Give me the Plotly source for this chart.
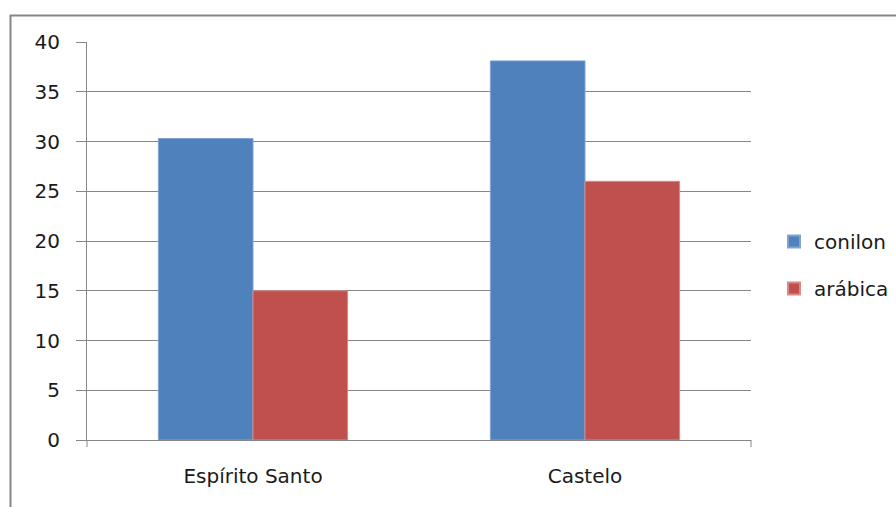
import plotly.graph_objects as go

categories = ["Espírito Santo", "Castelo"]
conilon = [30.3, 38.1]
arabica = [15.0, 26.0]
y_ticks = [0, 5, 10, 15, 20, 25, 30, 35, 40]

W, H = 896, 507
L, R, T, B = 87, 751, 42, 440

fig = go.Figure()
fig.add_trace(go.Bar(name="conilon", x=categories, y=conilon, legendgroup="a",
                     marker=dict(color="#4F81BD", line=dict(color="#7FA3D3", width=1))))
fig.add_trace(go.Bar(name="arábica", x=categories, y=arabica, legendgroup="b",
                     marker=dict(color="#C0504D", line=dict(color="#D98A88", width=1))))

pw = R - L
ph = B - T
fig.add_shape(type="rect", xref="paper", yref="paper",
              x0=(10.5 - L) / pw, x1=(W + 10 - L) / pw,
              y0=(B - (H + 10)) / ph, y1=(B - 15.5) / ph,
              line=dict(color="#868686", width=2), fillcolor="rgba(0,0,0,0)", layer="below")
# outer tick marks at both ends of the category axis
for xp in (0, 1):
    fig.add_shape(type="line", xref="paper", yref="paper",
                  x0=xp, x1=xp, y0=0, y1=-7 / ph,
                  line=dict(color="#868686", width=1))

fig.update_layout(
    width=W, height=H,
    margin=dict(l=L, r=W - R, t=T, b=H - B, pad=0, autoexpand=False),
    paper_bgcolor="white", plot_bgcolor="white",
    font=dict(family="DejaVu Sans", size=20, color="#1a1a1a"),
    barmode="group", bargap=0.43, bargroupgap=0,
    showlegend=True,
    legend=dict(x=(774 - L) / pw, y=(B - 265) / ph, xanchor="left", yanchor="middle",
                font=dict(size=20), tracegroupgap=18, traceorder="grouped",
                itemsizing="constant", bgcolor="rgba(0,0,0,0)"),
    xaxis=dict(showgrid=False, showline=True, linecolor="#868686", linewidth=1,
               ticks="", ticklabelstandoff=18),
    yaxis=dict(range=[0, 40], tickvals=y_ticks, showgrid=True, gridcolor="#868686",
               gridwidth=1, showline=True, linecolor="#868686", linewidth=1,
               ticks="outside", ticklen=10, tickcolor="#868686", zeroline=False,
               ticklabelstandoff=12),
)

fig.write_html("out.html")
